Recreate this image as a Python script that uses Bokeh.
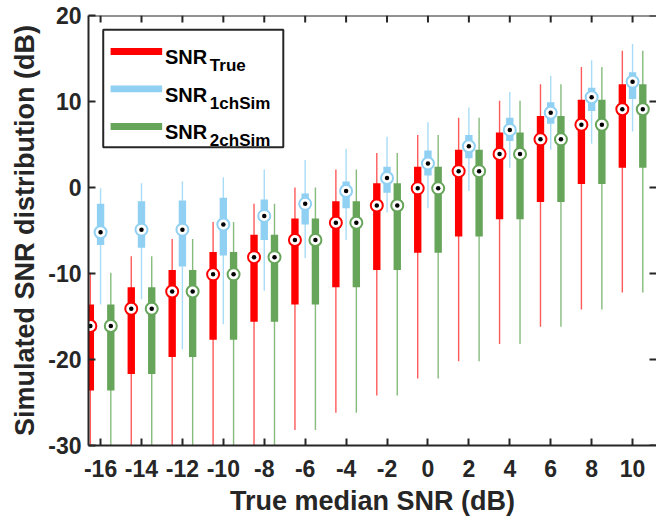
from bokeh.plotting import figure
from bokeh.models import FixedTicker, BoxAnnotation, Label, Span
from bokeh.embed import file_html
from bokeh.resources import INLINE

# ---------------- data ----------------
groups = [-16, -14, -12, -10, -8, -6, -4, -2, 0, 2, 4, 6, 8, 10]
x_tick_labels = ["-16", "-14", "-12", "-10", "-8", "-6", "-4", "-2", "0", "2", "4", "6", "8", "10"]
y_ticks = [-30, -20, -10, 0, 10, 20]
y_tick_labels = ["-30", "-20", "-10", "0", "10", "20"]

true_med = [-16.1, -14.1, -12.1, -10.1, -8.1, -6.1, -4.1, -2.1, -0.1, 1.9, 3.9, 5.6, 7.3, 9.1]
true_q3 = [-13.6, -11.6, -9.6, -7.5, -5.5, -3.6, -1.6, 0.5, 2.4, 4.4, 6.4, 8.3, 10.2, 12.0]
true_q1 = [-23.6, -21.7, -19.7, -17.7, -15.6, -13.6, -11.6, -9.6, -7.6, -5.7, -3.7, -1.7, 0.4, 2.3]
true_hi = [-9.9, -8.0, -6.0, -4.0, -1.9, 0.0, 2.1, 4.0, 6.1, 8.1, 10.1, 12.0, 14.0, 15.9]
true_lo = [-38.0, -36.0, -34.0, -32.0, -30.2, -28.2, -26.2, -24.2, -22.2, -20.2, -18.2, -16.2, -14.2, -12.2]

one_med = [-5.2, -4.9, -4.9, -4.3, -3.3, -1.9, -0.4, 1.1, 2.8, 4.8, 6.7, 8.7, 10.5, 12.3]
one_q3 = [-1.9, -1.6, -1.5, -1.2, -1.4, -0.7, 0.7, 2.4, 4.3, 6.1, 8.1, 9.9, 11.6, 13.4]
one_q1 = [-6.7, -7.0, -9.2, -7.9, -6.1, -4.3, -2.4, -0.6, 1.4, 3.4, 5.4, 7.4, 8.9, 10.3]
one_hi = [-0.1, 0.5, 0.7, 1.2, 2.1, 3.2, 4.5, 5.9, 7.6, 9.3, 11.1, 13.0, 14.8, 16.7]
one_lo = [-13.6, -13.0, -18.8, -15.9, -12.0, -8.2, -6.1, -2.9, -2.4, -0.4, 2.3, 4.4, 5.1, 6.5]

two_med = [-16.1, -14.1, -12.1, -10.1, -8.1, -6.1, -4.1, -2.1, -0.1, 1.9, 3.9, 5.6, 7.3, 9.1]
two_q3 = [-13.6, -11.6, -9.6, -7.5, -5.5, -3.6, -1.6, 0.5, 2.4, 4.4, 6.4, 8.3, 10.2, 12.0]
two_q1 = [-23.6, -21.7, -19.7, -17.7, -15.6, -13.6, -11.6, -9.6, -7.6, -5.7, -3.7, -1.7, 0.4, 2.3]
two_hi = [-9.9, -8.0, -6.0, -4.0, -1.9, 0.0, 2.1, 4.0, 6.1, 8.1, 10.1, 12.0, 14.0, 15.9]
two_lo = [-38.0, -36.0, -34.0, -32.0, -30.2, -28.2, -26.2, -24.2, -22.2, -20.2, -18.2, -16.2, -14.2, -12.2]

# ---------------- styling ----------------
FONT = "Liberation Sans"
AX = "#262626"
X0, X1 = -16.59, 11.17
Y0, Y1 = -30, 20
series = [
    # (med, q1, q3, lo, hi, offset, box colour, whisker colour, subscript)
    (true_med, true_q1, true_q3, true_lo, true_hi, -0.5, "#ff0000", "#ff5a5a", "True"),
    (one_med, one_q1, one_q3, one_lo, one_hi, 0.0, "#8fd0f3", "#a9dcf6", "1chSim"),
    (two_med, two_q1, two_q3, two_lo, two_hi, 0.5, "#66a55a", "#86bb7c", "2chSim"),
]
BOX_W = 0.36

p = figure(width=656, height=526, output_backend="svg", toolbar_location=None,
           x_range=(X0, X1), y_range=(Y0, Y1),
           min_border_left=88, min_border_right=0, min_border_top=15, min_border_bottom=81)
p.outline_line_color = None
p.background_fill_color = "white"
p.border_fill_color = "white"
p.xgrid.visible = False
p.ygrid.visible = False

for med, q1, q3, lo, hi, off, col, wcol, sub in series:
    xs = [g + off for g in groups]
    p.segment(x0=xs, y0=lo, x1=xs, y1=hi, line_color=wcol, line_width=1.4)
    p.vbar(x=xs, bottom=q1, top=q3, width=BOX_W, fill_color=col, line_color=None)
    p.scatter(x=xs, y=med, marker="circle", size=12, fill_color="white",
              line_color=col, line_width=2)
    p.scatter(x=xs, y=med, marker="circle", size=4.5, fill_color="black", line_color=None)

# axes
def style_axis(ax):
    ax.axis_line_color = AX
    ax.axis_line_width = 2
    ax.major_tick_line_color = AX
    ax.major_tick_line_width = 2
    ax.major_tick_in = 7
    ax.major_tick_out = 0
    ax.minor_tick_line_color = None
    ax.major_label_text_font = FONT
    ax.major_label_text_font_style = "bold"
    ax.major_label_text_color = AX
    ax.major_label_text_font_size = "23px"
    ax.axis_label_text_font = FONT
    ax.axis_label_text_font_style = "bold"
    ax.axis_label_text_color = AX
    ax.axis_label_text_font_size = "27px"

xa = p.xaxis[0]
xa.ticker = FixedTicker(ticks=groups)
xa.major_label_overrides = dict(zip(groups, x_tick_labels))
style_axis(xa)
xa.major_label_standoff = 14
xa.axis_label = "True median SNR (dB)"
xa.axis_label_standoff = 6

ya = p.yaxis[0]
ya.ticker = FixedTicker(ticks=y_ticks)
ya.major_label_overrides = dict(zip(y_ticks, y_tick_labels))
style_axis(ya)
ya.major_label_standoff = 7
ya.axis_label = "Simulated SNR distribution (dB)"
ya.axis_label_standoff = 5

# top spine with inward ticks, and inward ticks on the (cropped) right side
p.add_layout(Span(location=Y1, dimension="width", line_color=AX, line_width=2))
top_len = 7 / 430 * (Y1 - Y0)
right_len = 7 / 568 * (X1 - X0)
p.segment(x0=groups, y0=[Y1] * len(groups), x1=groups, y1=[Y1 - top_len] * len(groups),
          line_color=AX, line_width=2)
p.segment(x0=[X1] * len(y_ticks), y0=y_ticks, x1=[X1 - right_len] * len(y_ticks), y1=y_ticks,
          line_color=AX, line_width=2)

# legend (drawn by hand so that the subscripts can be shown)
p.add_layout(BoxAnnotation(left=-15.87, right=-7.07, top=18.34, bottom=4.69,
                           fill_color="white", fill_alpha=1.0,
                           line_color=AX, line_alpha=1.0, line_width=2))
sample_y = [15.81, 11.47, 7.09]
snr_y = [15.15, 10.78, 6.43]
sub_y = [14.19, 9.73, 5.47]
for (med, q1, q3, lo, hi, off, col, wcol, sub), sy, ty, uy in zip(series, sample_y, snr_y, sub_y):
    p.add_layout(BoxAnnotation(left=-15.51, right=-12.99, top=sy + 0.4, bottom=sy - 0.4,
                               fill_color=col, fill_alpha=1.0, line_color=None))
    p.add_layout(Label(x=-12.85, y=ty, text="SNR", text_font=FONT, text_font_style="bold",
                       text_font_size="20px", text_color="black",
                       text_baseline="alphabetic", text_align="left"))
    p.add_layout(Label(x=-10.66, y=uy, text=sub, text_font=FONT, text_font_style="bold",
                       text_font_size="17px", text_color="black",
                       text_baseline="alphabetic", text_align="left"))

open("out.html", "w").write(file_html(p, INLINE))
